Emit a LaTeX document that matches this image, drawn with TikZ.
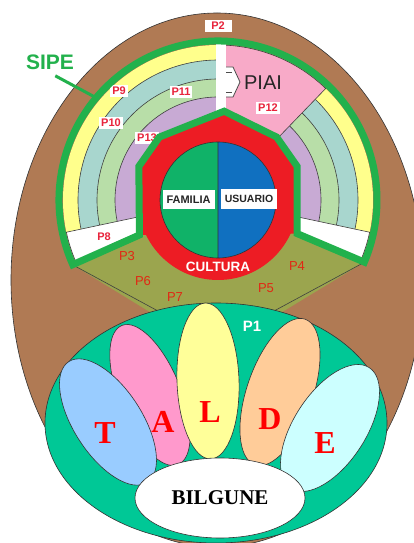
\documentclass[tikz,border=0pt]{standalone}
\usepackage{fontspec}
\setmainfont{Liberation Serif}
\setsansfont{Liberation Sans}

\definecolor{brownbg}{RGB}{176,122,84}
\definecolor{sipegreen}{RGB}{34,177,76}
\definecolor{ringred}{RGB}{237,28,36}
\definecolor{bandyellow}{RGB}{255,255,140}
\definecolor{bandteal}{RGB}{168,214,206}
\definecolor{bandgreen}{RGB}{184,222,168}
\definecolor{bandlilac}{RGB}{200,170,212}
\definecolor{piaipink}{RGB}{248,170,200}
\definecolor{zoneolive}{RGB}{155,165,78}
\definecolor{famgreen}{RGB}{16,178,104}
\definecolor{usublue}{RGB}{16,112,192}
\definecolor{taldegreen}{RGB}{0,200,150}
\definecolor{petalblue}{RGB}{153,204,255}
\definecolor{petalpink}{RGB}{255,153,204}
\definecolor{petalyellow}{RGB}{255,255,153}
\definecolor{petalorange}{RGB}{255,204,153}
\definecolor{petalcyan}{RGB}{204,255,255}
\definecolor{labelred}{RGB}{232,36,60}
\definecolor{zonered}{RGB}{225,40,20}

\tikzset{
  plabel/.style={fill=white, text=labelred, inner xsep=2pt, inner ysep=2.5pt,
    font=\sffamily\bfseries\fontsize{11}{11}\selectfont},
  zonelabel/.style={text=zonered, font=\sffamily\fontsize{13}{13}\selectfont},
  boxlabel/.style={fill=white, text=black!85, inner xsep=4pt, inner ysep=6pt,
    font=\sffamily\bfseries\fontsize{11}{11}\selectfont},
  petal/.style={draw=black!80, line width=0.6pt},
  letter/.style={text=red, font=\bfseries\fontsize{32}{32}\selectfont},
  bandline/.style={draw=black!75, line width=0.6pt},
  border/.style={draw=sipegreen, line width=7pt, line join=miter},
}

\begin{document}
\begin{tikzpicture}[x=1pt, y=1pt]
            \useasboundingbox (0,0) rectangle (414,543);
            \clip (0,0) rectangle (414,543);
            \fill[white] (0,0) rectangle (414,543);
            \coordinate (C) at (218,343);

            % Background
            \draw[fill=brownbg, draw=black!80, line width=0.6pt] (217,263) ellipse [x radius=206, y radius=267];
            \fill[zoneolive] (73,278) -- (C) -- (363,280) -- (274,226) -- (158,226) -- cycle;
            \draw[black!75, line width=0.6pt] (73,278) -- (158,232);
            \draw[black!75, line width=0.6pt] (363,280) -- (274,232);
            \draw[fill=taldegreen, draw=black!80, line width=0.6pt] (216,120) ellipse [x radius=171, y radius=120];

            % Petals
            \draw[petal, fill=petalpink, rotate around={22:(150,148)}] (150,148) ellipse [x radius=31, y radius=75];
            \draw[petal, fill=petalyellow, rotate around={2:(208,162)}] (208,162) ellipse [x radius=31, y radius=78];
            \draw[petal, fill=petalorange, rotate around={-19:(280,151)}] (280,151) ellipse [x radius=33, y radius=77];
            \draw[petal, fill=petalblue, rotate around={33:(108,121)}] (108,121) ellipse [x radius=34, y radius=72];
            \draw[petal, fill=petalcyan, rotate around={-33:(330,115)}] (330,115) ellipse [x radius=36, y radius=72];
            \draw[petal, fill=white] (220,45) ellipse [x radius=85, y radius=40];

            % Bands
            \begin{scope}[shift={(C)}]
            \fill[bandyellow] (0,0) -- (90:155) arc[start angle=90, end angle=192, radius=155] -- cycle;
            \fill[bandteal] (0,0) -- (90:140) arc[start angle=90, end angle=192, radius=140] -- cycle;
            \fill[bandgreen] (0,0) -- (90:121) arc[start angle=90, end angle=192, radius=121] -- cycle;
            \fill[bandlilac] (0,0) -- (90:103) arc[start angle=90, end angle=192, radius=103] -- cycle;
            \fill[bandyellow] (0,0) -- (-12:155) arc[start angle=-12, end angle=46, radius=155] -- cycle;
            \fill[bandteal] (0,0) -- (-12:140) arc[start angle=-12, end angle=46, radius=140] -- cycle;
            \fill[bandgreen] (0,0) -- (-12:121) arc[start angle=-12, end angle=46, radius=121] -- cycle;
            \fill[bandlilac] (0,0) -- (-12:103) arc[start angle=-12, end angle=46, radius=103] -- cycle;
            \draw[bandline] (90:140) arc[start angle=90, end angle=192, radius=140];
            \draw[bandline] (90:121) arc[start angle=90, end angle=192, radius=121];
            \draw[bandline] (90:103) arc[start angle=90, end angle=192, radius=103];
            \draw[bandline] (-12:140) arc[start angle=-12, end angle=46, radius=140];
            \draw[bandline] (-12:121) arc[start angle=-12, end angle=46, radius=121];
            \draw[bandline] (-12:103) arc[start angle=-12, end angle=46, radius=103];
            \draw[bandline, fill=piaipink] (0,0) -- (46:155) arc[start angle=46, end angle=90, radius=155] -- cycle;
            \draw[bandline, fill=white] (0,0) -- (192:155) arc[start angle=192, end angle=204, radius=155] -- cycle;
            \draw[bandline, fill=white] (0,0) -- (-23:155) arc[start angle=-23, end angle=-12, radius=155] -- cycle;
            \fill[white] (-2,85) rectangle (8,158);
            \draw[fill=white, draw=black!70, line width=0.8pt] (8,133) -- (15,133) -- (22,118) -- (15,103) -- (8,103);
            \draw[black!70, line width=0.8pt] (8,128) -- (14,128) (8,108) -- (14,108);
            \coordinate (sipeend) at (140:159);
            \end{scope}

            % Band labels
            \node[plabel] (p9) at (119,452) {P9};
            \node[plabel] (p10) at (111,420) {P10};
            \node[plabel] (p11) at (181,451) {P11};
            \node[plabel] (p13) at (147,405) {P13};
            \node[plabel] (p12) at (268,435) {P12};
            \node[text=black!85, font=\sffamily\fontsize{20}{20}\selectfont] (piai) at (263,460) {PIAI};

            % Ring
            \begin{scope}[shift={(C)}]
            \fill[ringred] (204:86) -- (157:86) -- (133:86) -- (86:89) -- (47:86) -- (23:86) -- (-23:86) -- cycle;
            \fill[ringred] (0,0) circle (80);
            \fill[famgreen] (0,0) -- (90:58) arc[start angle=90, end angle=270, radius=58] -- cycle;
            \fill[usublue] (0,0) -- (-90:58) arc[start angle=-90, end angle=90, radius=58] -- cycle;
            \draw[black!80, line width=0.6pt] (0,0) circle (58) (90:58) -- (-90:58);
            \draw[border] (204:159) arc[start angle=204, end angle=-23, radius=159] -- (-23:86) -- (23:86) -- (47:86) -- (86:89) -- (133:86) -- (157:86) -- (204:86) -- cycle;
            \end{scope}

            % Nodes
            \node[plabel, minimum width=27pt] (p2) at (218,517) {P2};
            \node[text=sipegreen, font=\sffamily\bfseries\fontsize{21}{21}\selectfont] (sipe) at (50,481) {SIPE};
            \node[boxlabel] (familia) at (188.5,343.5) {FAMILIA};
            \node[boxlabel, font=\sffamily\bfseries\fontsize{10.5}{10.5}\selectfont] (usuario) at (249,344) {USUARIO};
            \node[text=white, font=\sffamily\bfseries\fontsize{13.5}{13.5}\selectfont] (cultura) at (218,276) {CULTURA};
            \node[text=labelred, font=\sffamily\bfseries\fontsize{11}{11}\selectfont] (p8) at (104,306) {P8};
            \node[zonelabel] (p3) at (127,287) {P3};
            \node[zonelabel] (p6) at (143,262) {P6};
            \node[zonelabel] (p7) at (175,246) {P7};
            \node[zonelabel] (p4) at (297,277) {P4};
            \node[zonelabel] (p5) at (266,255) {P5};
            \node[text=white, font=\sffamily\bfseries\fontsize{15}{15}\selectfont] (p1) at (252,217) {P1};
            \node[letter] (t) at (105,110) {T};
            \node[letter] (a) at (163,121) {A};
            \node[letter] (l) at (210,131) {L};
            \node[letter] (d) at (270,124) {D};
            \node[letter] (e) at (325,100) {E};
            \node[font=\bfseries\fontsize{21}{21}\selectfont] (bilgune) at (220,45) {BILGUNE};

            % Edges
            \draw[sipegreen, line width=3pt, shorten <=6pt] (sipe.south) -- (sipeend);
        \end{tikzpicture}
\end{document}
